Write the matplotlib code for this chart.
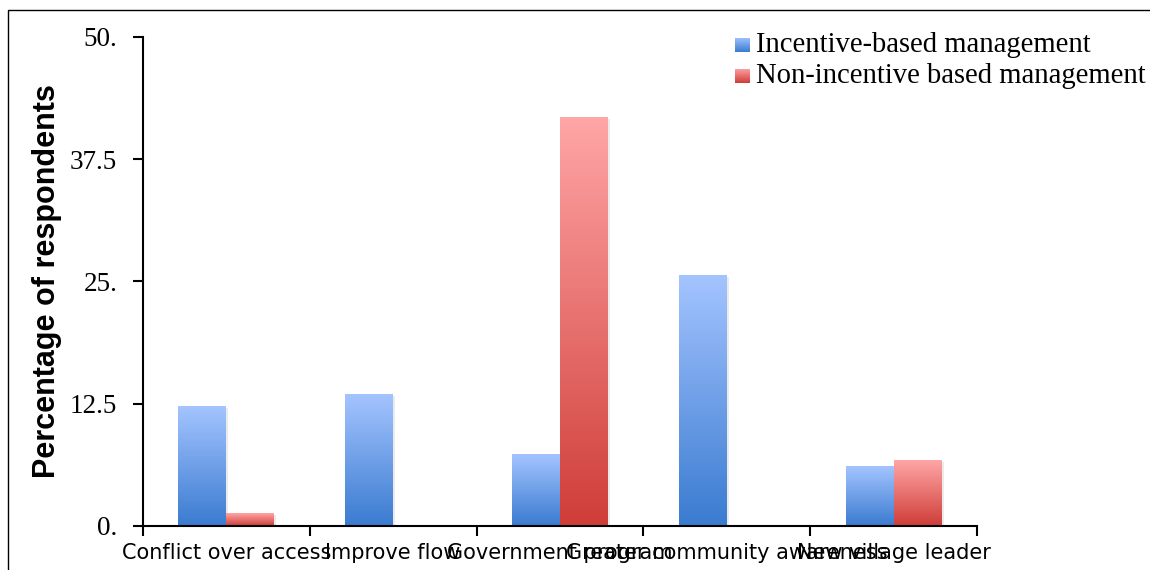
import numpy as np
import matplotlib
matplotlib.use('Agg')
import matplotlib.pyplot as plt
from matplotlib.colors import LinearSegmentedColormap
from matplotlib.patches import Rectangle

categories = ['Conflict over access', 'Improve flow', 'Government program',
              'Greater community awareness', 'New village leader']
incentive = [12.2, 13.4, 7.3, 25.6, 6.1]
non_incentive = [1.3, 0.0, 41.8, 0.0, 6.7]
series_names = ['Incentive-based management', 'Non-incentive based management']
ytick_vals = [0, 12.5, 25, 37.5, 50]
ytick_labels = ['0.', '12.5', '25.', '37.5', '50.']

blue_cmap = LinearSegmentedColormap.from_list('blue', ['#3a7bd0', '#a4c4ff'])
red_cmap = LinearSegmentedColormap.from_list('red', ['#cf3d38', '#ffa6a6'])
grad = np.linspace(0, 1, 256).reshape(-1, 1)

fig = plt.figure(figsize=(11.5, 5.7), dpi=100)
ax = fig.add_axes([0.1243, 0.0772, 0.7253, 0.8579])

# figure frame (left & top edges visible)
fig.patches.append(Rectangle((0.007, -0.1), 1.2, 1.082, transform=fig.transFigure,
                             fill=False, edgecolor='black', lw=1.0))

x = np.arange(len(categories))
w = 0.287


def gradient_bars(xs, vals, cmap):
    bars = ax.bar(xs, vals, w, color='none', edgecolor='none')
    for b in bars:
        h = b.get_height()
        if h <= 0:
            continue
        x0 = b.get_x()
        # soft shadow
        ax.add_patch(Rectangle((x0 + 0.012, 0), b.get_width(), h - 0.15,
                               facecolor='#000000', alpha=0.08, edgecolor='none', zorder=1))
        ax.imshow(grad, cmap=cmap, origin='lower', aspect='auto',
                  extent=[x0, x0 + b.get_width(), 0, h], zorder=2, interpolation='bicubic')


gradient_bars(x - w / 2, incentive, blue_cmap)
gradient_bars(x + w / 2, non_incentive, red_cmap)

ax.set_xlim(-0.5, len(categories) - 0.5)
ax.set_ylim(0, 50)

for s in ['top', 'right']:
    ax.spines[s].set_visible(False)
for s in ['left', 'bottom']:
    ax.spines[s].set_linewidth(1.5)
    ax.spines[s].set_zorder(5)

ax.set_yticks(ytick_vals)
ax.set_yticklabels(ytick_labels, family='Liberation Serif', fontsize=19.5)
ax.tick_params(axis='y', length=7, width=1.5, direction='out', pad=11.5)

ax.set_xticks(np.arange(len(categories) + 1) - 0.5)
ax.set_xticklabels([])
ax.tick_params(axis='x', which='major', length=7, width=1.5, direction='out')
ax.set_xticks(x, minor=True)
ax.set_xticklabels(categories, minor=True, family='DejaVu Sans', fontsize=15)
ax.tick_params(axis='x', which='minor', length=0, pad=12)

ax.set_ylabel('Percentage of respondents', family='Liberation Sans',
              fontweight='bold', fontsize=22, labelpad=6)

# legend with gradient squares
leg_rows = [(series_names[0], blue_cmap, 0.921), (series_names[1], red_cmap, 0.866)]
for name, cmap, yc in leg_rows:
    sq = fig.add_axes([0.639, yc - 0.012, 0.013, 0.025])
    sq.imshow(grad, cmap=cmap, origin='lower', aspect='auto')
    sq.set_axis_off()
    fig.text(0.657, yc, name, family='Liberation Serif', fontsize=20.6, va='center', ha='left')

fig.savefig('out.png', dpi=100)
